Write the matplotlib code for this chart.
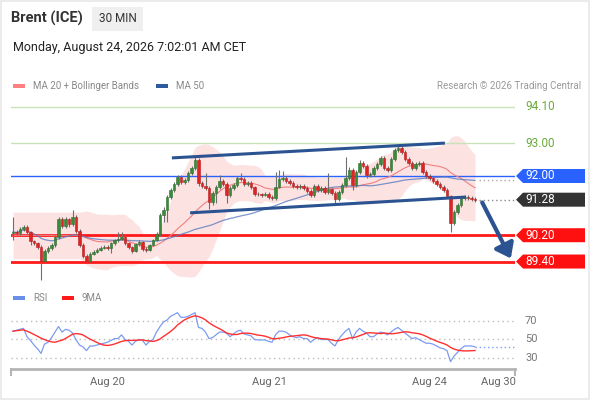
import numpy as np
import pandas as pd
import matplotlib
matplotlib.use("Agg")
import matplotlib.pyplot as plt
from matplotlib import transforms
from matplotlib.patches import Polygon, Rectangle, FancyArrowPatch

plt.rcParams['font.family'] = ['Roboto', 'DejaVu Sans']

# ---- data (30 min candles) ----
first_open = 90.27
closes = [90.30, 90.27, 90.39, 90.45, 90.30, 90.02, 89.96, 89.84, 89.42, 89.72,
          89.81, 89.90, 90.15, 90.69, 90.48, 90.69, 90.54, 90.75, 90.33, 89.90,
          89.57, 89.42, 89.63, 89.69, 89.75, 89.81, 89.84, 89.81, 89.96, 90.05,
          90.09, 90.15, 89.96, 89.84, 89.72, 89.93, 89.99, 89.78, 89.75, 89.90,
          90.05, 90.24, 90.81, 90.97, 91.36, 91.57, 91.76, 91.97, 91.82, 91.88,
          92.09, 92.24, 92.49, 91.79, 91.70, 91.64, 91.21, 91.48, 91.67, 91.85,
          91.76, 91.42, 91.64, 91.73, 91.94, 91.91, 91.76, 91.79, 91.67, 91.45,
          91.44, 91.42, 91.45, 91.36, 91.33, 91.67, 91.91, 91.94, 91.85, 91.79,
          91.70, 91.67, 91.70, 91.64, 91.54, 91.42, 91.70, 91.57, 91.64, 91.51,
          91.60, 91.48, 91.30, 91.51, 91.73, 91.94, 92.18, 91.73, 92.12, 92.40,
          92.30, 92.03, 92.06, 92.24, 92.36, 92.55, 92.24, 92.18, 92.52, 92.79,
          92.85, 92.73, 92.52, 92.40, 92.24, 92.36, 92.40, 92.12, 92.00, 91.94,
          91.85, 91.76, 91.67, 91.57, 91.39, 90.57, 90.91, 91.12, 91.33, 91.36,
          91.33, 91.31, 91.28]
highs = [90.75, 90.36, 90.45, 90.52, 90.50, 90.33, 90.05, 90.00, 89.90, 89.78,
         89.87, 89.96, 90.21, 90.75, 90.75, 90.75, 90.72, 90.97, 90.81, 90.39,
         89.96, 89.63, 89.69, 89.75, 89.81, 89.87, 89.90, 89.90, 90.00, 90.09,
         90.30, 90.30, 90.21, 90.00, 89.87, 89.96, 90.05, 90.02, 89.84, 89.93,
         90.09, 90.30, 90.88, 91.06, 91.42, 91.64, 91.82, 92.03, 92.03, 91.94,
         92.15, 92.30, 92.58, 92.55, 91.85, 92.09, 91.70, 91.54, 91.73, 92.03,
         91.91, 91.82, 91.70, 91.79, 92.00, 92.09, 91.97, 91.85, 91.85, 91.70,
         91.51, 91.48, 91.51, 91.51, 91.42, 92.12, 92.18, 92.15, 92.00, 91.91,
         91.85, 91.76, 91.76, 91.76, 91.70, 91.60, 91.76, 91.76, 91.70, 91.70,
         92.09, 91.64, 91.54, 91.57, 91.79, 92.58, 92.27, 92.24, 92.18, 92.49,
         92.46, 92.36, 92.12, 92.30, 92.43, 92.61, 92.61, 92.30, 92.58, 92.85,
         92.94, 92.91, 92.79, 92.58, 92.46, 92.43, 92.46, 92.46, 92.18, 92.06,
         92.00, 91.91, 91.82, 91.73, 91.64, 91.42, 90.97, 91.18, 91.39, 91.42,
         91.42, 91.39, 91.36]
lows = [90.05, 90.21, 90.21, 90.33, 90.24, 89.90, 89.90, 89.78, 88.84, 89.36,
        89.66, 89.75, 89.84, 90.09, 90.42, 90.42, 90.45, 90.48, 90.27, 89.84,
        89.51, 89.36, 89.39, 89.60, 89.66, 89.72, 89.78, 89.75, 89.66, 89.90,
        90.00, 90.05, 89.90, 89.78, 89.66, 89.69, 89.87, 89.72, 89.69, 89.72,
        89.87, 90.02, 90.18, 90.60, 90.60, 91.30, 91.51, 91.70, 91.76, 91.76,
        91.82, 92.03, 92.18, 91.70, 91.64, 91.57, 91.00, 91.12, 91.18, 91.60,
        91.70, 91.18, 91.36, 91.57, 91.67, 91.85, 91.70, 91.70, 91.60, 91.39,
        91.39, 91.36, 91.39, 91.30, 91.27, 91.27, 91.64, 91.85, 91.79, 91.73,
        91.64, 91.60, 91.60, 91.57, 91.48, 91.36, 91.36, 91.51, 91.51, 91.45,
        91.45, 91.42, 91.18, 91.24, 91.45, 91.67, 91.88, 91.57, 91.67, 92.06,
        92.24, 91.94, 91.97, 92.00, 92.18, 92.30, 92.18, 92.12, 92.12, 92.46,
        92.73, 92.67, 92.46, 92.33, 92.18, 92.18, 92.30, 92.06, 91.94, 91.88,
        91.79, 91.70, 91.60, 91.51, 91.33, 90.30, 90.51, 90.85, 91.06, 91.27,
        91.27, 91.24, 91.22]
rsi_values = [59, 60, 61, 62, 53, 49, 44, 40, 35, 45,
              47, 52, 58, 64, 58, 61, 60, 57, 50, 44,
              42, 38, 43, 43, 44, 45, 46, 47, 49, 51,
              51, 55, 50, 48, 44, 48, 50, 49, 44, 48,
              50, 58, 64, 69, 71, 75, 77, 79, 74, 74,
              75, 77, 79, 63, 62, 58, 51, 52, 55, 58,
              58, 57, 53, 56, 59, 60, 56, 55, 54, 50,
              49.5, 49.5, 49.5, 48, 47, 55, 59, 59, 58, 55,
              53, 52, 53, 51, 51, 47, 50, 52, 50, 50,
              50, 46, 43, 50, 55, 59, 62, 51, 58, 62,
              59, 57, 53, 53, 56, 58, 57, 55, 58, 61,
              63, 60, 57, 54, 51, 52, 50, 48, 46, 46,
              45, 43, 41, 40, 38, 26, 32, 36, 40, 43,
              43, 43, 42]

green_levels = [94.10, 93.00]
pivot_level = 92.00
last_price = 91.28
support_levels = [90.20, 89.40]

upper_channel_x = [45.4, 123.4]
upper_channel_y = [92.55, 93.00]
lower_channel_x = [50.6, 129.4]
lower_channel_y = [90.88, 91.36]
arrow_start = (133.7, 91.27)
arrow_end = (142.6, 89.42)

date_ticks = [26.9, 73.4, 119.1, 138.6]
date_labels = ['Aug 20', 'Aug 21', 'Aug 24', 'Aug 30']
rsi_levels = [70, 50, 30]

# ---- indicators ----
s = pd.Series(closes)
ma20 = s.rolling(20).mean().bfill()
sd20 = s.rolling(20).std(ddof=0).bfill()
ma50 = s.rolling(50, min_periods=1).mean()
rsi = pd.Series(rsi_values, dtype=float)
rsi_ma = rsi.rolling(9, min_periods=1).mean()

n = len(closes)
idx = np.arange(n)
opens = np.array([first_open] + closes[:-1])
c = np.array(closes)

W, H = 590, 400
fig = plt.figure(figsize=(W / 100, H / 100), dpi=100)
fig.patch.set_facecolor('white')
fig.add_artist(Rectangle((0.001, 0.002), 0.997, 0.996, transform=fig.transFigure,
                         fill=False, edgecolor='#e8e8e8', lw=1.2))

x0, x1 = (11 - 13) / 3.5, (515 - 13) / 3.5

# ---- main price panel ----
ax = fig.add_axes([11 / W, (H - 285) / H, 504 / W, 193 / H])
ax.set_xlim(x0, x1)
ax.set_ylim(88.687, 94.553)
ax.axis('off')

ax.fill_between(idx, ma20 - 2 * sd20, ma20 + 2 * sd20, color='#fde2e2', lw=0, zorder=1)
ax.plot(idx, ma20, color='#f08080', lw=0.8, zorder=2)
ax.plot(idx, ma50, color='#5a7cc0', lw=0.9, alpha=0.8, zorder=2)

for lv in green_levels:
    ax.axhline(lv, color='#c9e2b8', lw=1.0, zorder=1.5)
ax.axhline(pivot_level, color='#2962ff', lw=1.0, zorder=1.5)
for lv in support_levels:
    ax.axhline(lv, color='#ff1a1a', lw=2.0, zorder=1.5)
ax.plot([n, x1], [last_price, last_price], color='#888888', lw=1, ls=(0, (1, 2)), zorder=1.5)
ax.plot([n, x1], [ma50.iloc[-1], ma50.iloc[-1]], color='#aaaaaa', lw=1, ls=(0, (1, 2)), zorder=1.5)

# candles
up = c >= opens
ax.vlines(idx, lows, highs, color='#6f6f6f', lw=0.8, zorder=3)
body_lo = np.minimum(opens, c)
body_h = np.maximum(np.abs(c - opens), 0.02)
ax.bar(idx[up], body_h[up], bottom=body_lo[up], width=0.72, color='#3a8a3a',
       edgecolor='#2c6e2c', lw=0.4, zorder=4)
ax.bar(idx[~up], body_h[~up], bottom=body_lo[~up], width=0.72, color='#e02424',
       edgecolor='#b51c1c', lw=0.4, zorder=4)

ax.plot(upper_channel_x, upper_channel_y, color='#2c5391', lw=2.2, solid_capstyle='butt', zorder=5)
ax.plot(lower_channel_x, lower_channel_y, color='#2c5391', lw=2.2, solid_capstyle='butt', zorder=5)
ax.add_patch(FancyArrowPatch(arrow_start, arrow_end, arrowstyle='-|>,head_length=0.6,head_width=0.45',
                             mutation_scale=14, color='#2c5391', lw=3, zorder=6, clip_on=False))

# right side price tags
tr = transforms.blended_transform_factory(fig.transFigure, ax.transData)
hh = 7 / 32.9
for lv in green_levels:
    ax.text(525 / W, lv, f'{lv:.2f}', transform=tr, color='#6aaa3a', fontsize=8.5,
            va='center', ha='left', clip_on=False)
for lv, col in [(pivot_level, '#2962ff'), (last_price, '#333333'),
                (support_levels[0], '#ff1010'), (support_levels[1], '#ff1010')]:
    pts = [(516 / W, lv), (523 / W, lv + hh), (585 / W, lv + hh), (585 / W, lv - hh), (523 / W, lv - hh)]
    fig.add_artist(Polygon(pts, closed=True, transform=tr, facecolor=col, edgecolor='none'))
    fig.text(525 / W, 0, f'{lv:.2f}', transform=tr, color='white', fontsize=8.5,
             va='center', ha='left').set_y(lv)

# ---- RSI panel ----
ax2 = fig.add_axes([11 / W, (H - 369) / H, 504 / W, 64 / H])
ax2.set_xlim(x0, x1)
ax2.set_ylim(18.1, 87.3)
for sp in ['top', 'right', 'left']:
    ax2.spines[sp].set_visible(False)
ax2.spines['bottom'].set_color('#b5b5b5')
ax2.spines['bottom'].set_linewidth(2)
ax2.set_yticks([])
ax2.set_xticks([])
tr_r = transforms.blended_transform_factory(fig.transFigure, ax2.transData)
for lv in rsi_levels:
    ax2.plot([x0, x1], [lv, lv], color='#bbbbbb', lw=1, ls=(0, (1, 2.5)), zorder=1)
    ax2.text(525 / W, lv, str(lv), transform=tr_r, color='#777777', fontsize=8,
             va='center', ha='left', clip_on=False)
ax2.plot(idx, rsi, color='#7b9cf0', lw=0.9, zorder=2)
ax2.plot(idx, rsi_ma, color='#ff3030', lw=1.0, zorder=3)
ax2.plot([n - 1, x1], [rsi.iloc[-1], rsi.iloc[-1]], color='#7b9cf0', lw=1, ls=(0, (1, 2)))
tr2 = transforms.blended_transform_factory(ax2.transData, ax2.transAxes)
for xx in [x0, x1]:
    ax2.plot([xx, xx], [0, -0.09], transform=tr2, color='#b5b5b5', lw=1.5, clip_on=False)
for xt, lab in zip(date_ticks, date_labels):
    ax2.text(xt, -0.2, lab, transform=tr2, ha='center', va='center', color='#666666', fontsize=8)

# ---- header & legends ----
fig.text(11 / W, 1 - 18 / H, 'Brent (ICE)', fontsize=10.5, fontweight='bold', color='#333333', va='center')
fig.add_artist(Rectangle((92 / W, 1 - 31 / H), 51 / W, 24 / H, transform=fig.transFigure,
                         facecolor='#efefef', edgecolor='none'))
fig.text(117.5 / W, 1 - 19 / H, '30 MIN', fontsize=8.5, color='#333333', ha='center', va='center')
fig.text(13 / W, 1 - 48 / H, 'Monday, August 24, 2026 7:02:01 AM CET', fontsize=9, color='#222222', va='center')

def legend_item(x, y, col, label):
    fig.add_artist(Rectangle((x / W, 1 - (y + 2) / H), 12 / W, 4 / H, transform=fig.transFigure,
                             facecolor=col, edgecolor='none'))
    fig.text((x + 20) / W, 1 - y / H, label, fontsize=7, color='#888888', va='center')

legend_item(13, 86, '#ff8080', 'MA 20 + Bollinger Bands')
legend_item(156, 86, '#2f5a9e', 'MA 50')
fig.text(581 / W, 1 - 86 / H, 'Research \u00a9 2026 Trading Central', fontsize=7, color='#999999',
         va='center', ha='right')
legend_item(13, 298, '#6a8fe8', 'RSI')
legend_item(62, 298, '#ff1a1a', '9MA')

fig.savefig('out.png', dpi=100)
